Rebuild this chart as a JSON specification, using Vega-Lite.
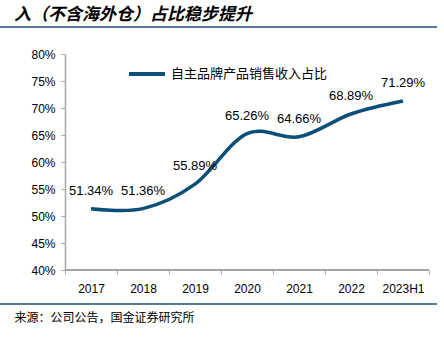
{
  "$schema": "https://vega.github.io/schema/vega-lite/v6.json",
  "width": 437,
  "height": 216,
  "autosize": {"type": "none"},
  "padding": {"left": 0, "top": 54, "right": 7, "bottom": 69},
  "background": "white",
  "config": {
    "view": {"stroke": null},
    "font": "Liberation Sans",
    "axis": {"labelFont": "Liberation Sans", "labelColor": "#000000", "grid": false}
  },
  "title": {
    "text": "入（不含海外仓）占比稳步提升",
    "anchor": "start",
    "frame": "group",
    "orient": "top",
    "dx": 14,
    "offset": 2,
    "font": "Noto Sans CJK SC",
    "fontSize": 17,
    "fontStyle": "italic",
    "fontWeight": "bold",
    "color": "#000000"
  },
  "datasets": {
    "series": [
      {"year": "2017", "value": 0.5134, "series": "自主品牌产品销售收入占比"},
      {"year": "2018", "value": 0.5136, "series": "自主品牌产品销售收入占比"},
      {"year": "2019", "value": 0.5589, "series": "自主品牌产品销售收入占比"},
      {"year": "2020", "value": 0.6526, "series": "自主品牌产品销售收入占比"},
      {"year": "2021", "value": 0.6466, "series": "自主品牌产品销售收入占比"},
      {"year": "2022", "value": 0.6889, "series": "自主品牌产品销售收入占比"},
      {"year": "2023H1", "value": 0.7129, "series": "自主品牌产品销售收入占比"}
    ],
    "rules": [
      {"level": 0.85},
      {"level": 0.337}
    ]
  },
  "encoding": {
    "y": {
      "type": "quantitative",
      "scale": {"domain": [0.4, 0.8], "zero": false, "nice": false},
      "axis": {
        "title": null,
        "format": ".0%",
        "values": [0.4, 0.45, 0.5, 0.55, 0.6, 0.65, 0.7, 0.75, 0.8],
        "tickCount": 9,
        "labelOverlap": false,
        "offset": -65,
        "labelFontSize": 12,
        "labelPadding": 6,
        "tickSize": 4,
        "tickColor": "#a6a6a6",
        "domainColor": "#a6a6a6",
        "domainWidth": 1.5
      }
    }
  },
  "layer": [
    {
      "data": {"name": "rules"},
      "mark": {"type": "rule", "clip": false, "color": "#1f4e79", "strokeWidth": 1.5},
      "encoding": {
        "y": {"field": "level"}
      }
    },
    {
      "data": {"name": "series"},
      "mark": {"type": "line", "interpolate": "cardinal", "strokeWidth": 3.5, "clip": false},
      "encoding": {
        "x": {
          "field": "year",
          "type": "ordinal",
          "scale": {"type": "band", "paddingInner": 0, "paddingOuter": 0.702, "align": 0.89},
          "axis": {
            "title": "来源：公司公告，国金证券研究所",
            "titleFont": "Noto Sans CJK SC",
            "titleFontSize": 12,
            "titleFontWeight": "normal",
            "titleColor": "#000000",
            "titleAnchor": "start",
            "titleAlign": "left",
            "titleBaseline": "middle",
            "titleX": 14,
            "titleY": 47,
            "labelAngle": 0,
            "labelFontSize": 12,
            "labelPadding": 9,
            "tickBand": "extent",
            "tickSize": 4,
            "tickColor": "#a6a6a6",
            "domain": false
          }
        },
        "y": {"field": "value"},
        "color": {
          "field": "series",
          "type": "nominal",
          "scale": {"range": ["#0b4f78"]},
          "legend": {
            "title": null,
            "orient": "none",
            "legendX": 127,
            "legendY": 0,
            "symbolType": "stroke",
            "symbolSize": 1296,
            "symbolStrokeWidth": 4,
            "labelFont": "Noto Sans CJK SC",
            "labelFontSize": 13,
            "labelColor": "#000000",
            "labelOffset": 4
          }
        }
      }
    },
    {
      "data": {"name": "series"},
      "mark": {"type": "rule", "color": "#a6a6a6", "strokeWidth": 1.5, "x2Offset": 26},
      "encoding": {
        "x": {"datum": "2017", "type": "ordinal", "bandPosition": 0},
        "x2": {"datum": "2023H1"},
        "y": {"datum": 0.4}
      }
    },
    {
      "data": {"name": "series"},
      "mark": {"type": "text", "dy": -18, "fontSize": 13, "color": "#000000", "font": "Liberation Sans"},
      "encoding": {
        "x": {"field": "year", "type": "ordinal"},
        "y": {"field": "value"},
        "text": {"field": "value", "type": "quantitative", "format": ".2%"}
      }
    }
  ]
}
